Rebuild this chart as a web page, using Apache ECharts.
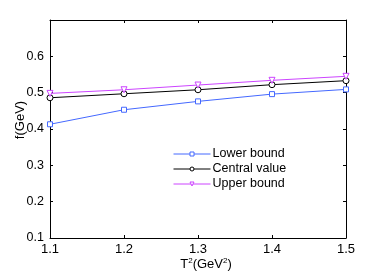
<!DOCTYPE html>
<html><head><meta charset="utf-8">
<script src="https://cdn.jsdelivr.net/npm/echarts@6/dist/echarts.min.js"></script>
<style>html,body{margin:0;padding:0;background:#fff}#c{width:382px;height:273px}</style>
</head><body><div id="c"></div>
<script>
const xValues = [1.1, 1.2, 1.3, 1.4, 1.5];
const lowerBound = [0.413, 0.453, 0.476, 0.496, 0.509];
const centralValue = [0.486, 0.497, 0.508, 0.522, 0.533];
const upperBound = [0.498, 0.508, 0.521, 0.534, 0.545];
const seriesNames = ['Lower bound', 'Central value', 'Upper bound'];
const seriesColors = ['#4468ff', '#000000', '#cc44ff'];

const font = 'Liberation Sans, Arial, Helvetica, sans-serif';
const chart = echarts.init(document.getElementById('c'));
const pairs = a => xValues.map((x, i) => [x, a[i]]);
const axisLineStyle = {color: '#000', width: 1};
const mk = (i, data, symbol, size, rot) => ({
  name: seriesNames[i], type: 'line', data: pairs(data),
  symbol: symbol, symbolSize: size, symbolRotate: rot || 0, showAllSymbol: true,
  lineStyle: {width: 1, color: seriesColors[i]},
  itemStyle: {color: '#fff', borderColor: seriesColors[i], borderWidth: 1}
});
chart.setOption({
  animation: false,
  grid: {left: 50, right: 36, top: 20, bottom: 35, containLabel: false, outerBoundsMode: 'none'},
  legend: {
    left: 173, top: 147, orient: 'vertical', padding: 0,
    itemWidth: 37, itemHeight: 5, itemGap: 1,
    lineStyle: {width: 1},
    itemStyle: {borderWidth: 1},
    textStyle: {fontFamily: font, fontSize: 12.5, color: '#000', lineHeight: 14, padding: [0, 0, 0, -3]},
    data: seriesNames
  },
  xAxis: [{
    type: 'value', min: 1.1, max: 1.5, interval: 0.1,
    name: 'T{s|2}(GeV{s|2})', nameLocation: 'middle', nameGap: 19, nameMoveOverlap: false,
    nameTextStyle: {fontFamily: font, fontSize: 13, color: '#000', padding: [0, 0, 0, 16],
      rich: {s: {fontSize: 8, verticalAlign: 'top', padding: [0,0,6,0], fontFamily: font, color:'#000'}}},
    axisLine: {lineStyle: axisLineStyle},
    axisTick: {inside: true, length: 3, lineStyle: axisLineStyle},
    axisLabel: {fontFamily: font, fontSize: 13, color: '#000', margin: 5, formatter: v => v.toFixed(1)},
    splitLine: {show: false}
  }, {
    type: 'value', position: 'top', min: 1.1, max: 1.5, interval: 0.1,
    axisLine: {lineStyle: axisLineStyle},
    axisTick: {inside: true, length: 3, lineStyle: axisLineStyle},
    axisLabel: {show: false}, splitLine: {show: false}
  }],
  yAxis: [{
    type: 'value', min: 0.1, max: 0.7, interval: 0.1,
    name: 'f(GeV)', nameLocation: 'middle', nameGap: 23, nameMoveOverlap: false,
    nameTextStyle: {fontFamily: font, fontSize: 13, color: '#000', padding: [0, 0, 0, 18]},
    axisLine: {lineStyle: axisLineStyle},
    axisTick: {inside: true, length: 3, lineStyle: axisLineStyle},
    axisLabel: {fontFamily: font, fontSize: 12.5, color: '#000', margin: 6,
      formatter: v => (Math.abs(v - 0.7) < 1e-6 ? '' : v.toFixed(1))},
    splitLine: {show: false}
  }, {
    type: 'value', position: 'right', min: 0.1, max: 0.7, interval: 0.1,
    axisLine: {lineStyle: axisLineStyle},
    axisTick: {inside: true, length: 3, lineStyle: axisLineStyle},
    axisLabel: {show: false}, splitLine: {show: false}
  }],
  series: [
    mk(0, lowerBound, 'rect', 5),
    mk(1, centralValue, 'circle', 6),
    mk(2, upperBound, 'triangle', 6, 180)
  ]
});
</script></body></html>
